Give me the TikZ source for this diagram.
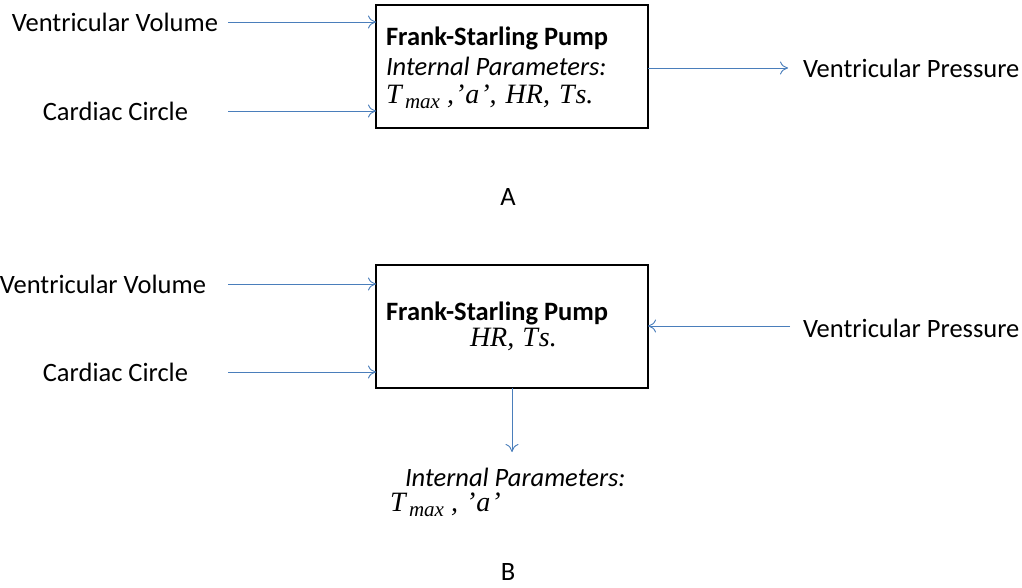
\documentclass[tikz,border=0pt]{standalone}
\usepackage{fontspec}
\setmainfont{Carlito}
\newfontfamily\serifit{Liberation Serif}
\usetikzlibrary{arrows.meta}
\definecolor{arr}{HTML}{4A7EBB}
\newcommand\tmx{T\raisebox{-0.35ex}{\fontsize{21}{22}\selectfont\,max}}
\begin{document}
\begin{tikzpicture}[x=1pt,y=-1pt,
  every node/.style={inner sep=0pt, outer sep=0pt, font=\fontsize{26.5}{30}\selectfont},
  pumpbox/.style={draw, line width=2pt, minimum width=272pt, minimum height=123pt, anchor=north west},
  conn/.style={draw=arr, line width=0.9pt, -{To[length=8pt,width=13pt]}},
  mth/.style={font=\serifit\itshape\fontsize{28}{30}\selectfont}]
\useasboundingbox (0,0) rectangle (1022,588);
% ---- A ----
\node[pumpbox] (pa) at (376,5) {};
\node[anchor=west] (pat) at (386,38) {\textbf{Frank-Starling Pump}};
\node[anchor=west] (pai) at (386,66) {\textit{Internal Parameters:}};
\node[anchor=west,mth] (pam) at (386,97) {\tmx\ ,\kern1pt’\kern1pt a\kern1pt’,\ \kern2pt HR,\ \kern2pt T\kern1pt s.};
\node[anchor=east] (vva) at (218,22) {Ventricular Volume};
\node[anchor=east] (cca) at (188,111) {Cardiac Circle};
\node[anchor=west] (vpa) at (803,68) {Ventricular Pressure};
\node (la) at (508,197) {A};
\coordinate (vvas) at (228,22);
\coordinate (ccas) at (228,111);
\coordinate (vpae) at (788,68);
\draw[conn] (vvas) -- (pa.west |- vvas);
\draw[conn] (ccas) -- (pa.west |- ccas);
\draw[conn] (pa.east |- vpae) -- (vpae);
% ---- B ----
\node[pumpbox] (pb) at (376,265) {};
\node[anchor=west] (pbt) at (386,313) {\textbf{Frank-Starling Pump}};
\node[anchor=west,mth] (pbm) at (470,339) {HR,\ \kern1pt T\kern1pt s.};
\node[anchor=east] (vvb) at (206,284) {Ventricular Volume};
\node[anchor=east] (ccb) at (188,372) {Cardiac Circle};
\node[anchor=west] (vpb) at (803,328) {Ventricular Pressure};
\node[anchor=west] (ipb) at (405,477) {\textit{Internal Parameters:}};
\node[anchor=west,mth] (ipm) at (390,505) {\tmx\ ,\ \kern1pt’\kern1pt a\kern1pt’};
\node (lb) at (508,572) {B};
\coordinate (vvbs) at (228,284);
\coordinate (ccbs) at (228,372);
\coordinate (vpbs) at (790,326);
\coordinate (ipe) at (512,452);
\draw[conn] (vvbs) -- (pb.west |- vvbs);
\draw[conn] (ccbs) -- (pb.west |- ccbs);
\draw[conn] (vpbs) -- (pb.east |- vpbs);
\draw[conn] (pb.south -| ipe) -- (ipe);
\end{tikzpicture}
\end{document}
